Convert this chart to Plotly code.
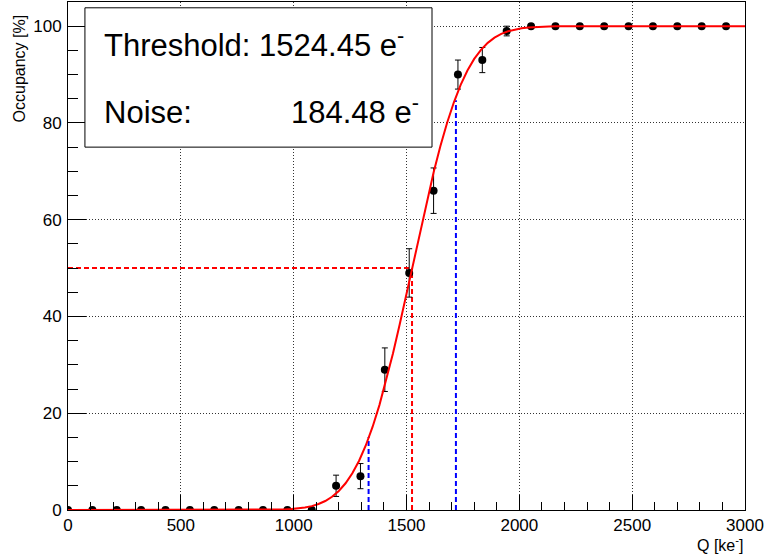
import math
import plotly.graph_objects as go

# ---- data ----
charge_ke = [0, 108, 216, 324, 432, 540, 648, 756, 864, 972, 1080, 1188, 1296, 1404,
             1512, 1620, 1728, 1836, 1944, 2052, 2160, 2268, 2376, 2484, 2592, 2700,
             2808, 2916]
occupancy = [0, 0, 0, 0, 0, 0, 0, 0, 0, 0, 0, 5, 7, 29, 49, 66, 90, 93, 99,
             100, 100, 100, 100, 100, 100, 100, 100, 100]
occ_err = [0, 0, 0, 0, 0, 0, 0, 0, 0, 0, 0, 2.2, 2.6, 4.5, 5.0, 4.7, 3.0, 2.6, 1.0,
           0, 0, 0, 0, 0, 0, 0, 0, 0]

threshold = 1524.45
noise = 184.48
sigma_x = [1332, 1719]
sigma_top = [15.1, 84.7]

x_ticks = [0, 500, 1000, 1500, 2000, 2500, 3000]
y_ticks = [0, 20, 40, 60, 80, 100]

FONT = "Liberation Sans, Arial, sans-serif"

# fit curve (error function with fitted threshold / noise)
fit_x = [3000 * i / 100 for i in range(101)]
fit_y = [50 * (1 + math.erf((x - threshold) / (noise * math.sqrt(2)))) for x in fit_x]

fig = go.Figure()

# dashed guide lines
fig.add_trace(go.Scatter(x=[0, threshold], y=[50, 50], mode="lines",
                         line=dict(color="red", width=2, dash="5px,3px"),
                         hoverinfo="skip", showlegend=False))
fig.add_trace(go.Scatter(x=[threshold, threshold], y=[0, 50], mode="lines",
                         line=dict(color="red", width=2, dash="5px,3px"),
                         hoverinfo="skip", showlegend=False))
for sx, st in zip(sigma_x, sigma_top):
    fig.add_trace(go.Scatter(x=[sx, sx], y=[0, st], mode="lines",
                             line=dict(color="blue", width=2, dash="5px,3px"),
                             hoverinfo="skip", showlegend=False))

# data points
fig.add_trace(go.Scatter(x=charge_ke, y=occupancy, mode="markers",
                         marker=dict(color="black", size=8),
                         error_y=dict(type="data", array=occ_err, visible=True,
                                      color="black", thickness=1, width=3),
                         showlegend=False))

# fit
fig.add_trace(go.Scatter(x=fit_x, y=fit_y, mode="lines",
                         line=dict(color="red", width=2), showlegend=False))

axis_common = dict(
    showline=True, linecolor="black", linewidth=1, mirror=True,
    ticks="inside", tickcolor="black", tickwidth=1,
    showgrid=True, gridcolor="#333", griddash="1px,2px", gridwidth=1,
    zeroline=False,
    tickfont=dict(family=FONT, size=17, color="black"),
)

fig.update_xaxes(range=[0, 3000], tickvals=x_ticks, ticklen=15,
                 minor=dict(dtick=100, ticklen=8, ticks="inside", tickcolor="black",
                            showgrid=False),
                 **axis_common)
fig.update_yaxes(range=[0, 105], tickvals=y_ticks, ticklen=18,
                 ticklabelstandoff=2,
                 minor=dict(dtick=5, ticklen=10, ticks="inside", tickcolor="black",
                            showgrid=False),
                 **axis_common)

# info box
fig.add_shape(type="rect", xref="x", yref="y", x0=75, x1=1613, y0=75.0, y1=103.8,
              line=dict(color="black", width=1), fillcolor="white", layer="above")

fig.add_annotation(xref="x", yref="y", x=150, y=96.6, xanchor="left", yanchor="middle",
                   text="Threshold: 1524.45 e<sup>-</sup>", showarrow=False,
                   font=dict(family=FONT, size=31, color="black"))
fig.add_annotation(xref="x", yref="y", x=150, y=82.1, xanchor="left", yanchor="middle",
                   text="Noise:", showarrow=False,
                   font=dict(family=FONT, size=31, color="black"))
fig.add_annotation(xref="x", yref="y", x=1565, y=82.7, xanchor="right", yanchor="middle",
                   text="184.48 e<sup>-</sup>", showarrow=False,
                   font=dict(family=FONT, size=31, color="black"))

# axis titles (ROOT style, aligned to the axis end)
fig.add_annotation(xref="paper", yref="paper", x=1.0, y=-0.067, xanchor="right",
                   yanchor="middle", text="Q [ke<sup>-</sup>]", showarrow=False,
                   font=dict(family=FONT, size=16, color="black"))
fig.add_annotation(xref="paper", yref="paper", x=-0.072, y=0.98, xanchor="center",
                   yanchor="top", textangle=-90, text="Occupancy [%]", showarrow=False,
                   font=dict(family=FONT, size=16, color="black"))

fig.update_layout(
    width=766, height=556,
    margin=dict(l=68, r=21, t=2, b=46),
    paper_bgcolor="white", plot_bgcolor="white",
    font=dict(family=FONT, color="black"),
    showlegend=False,
)

fig.write_html("out.html")
